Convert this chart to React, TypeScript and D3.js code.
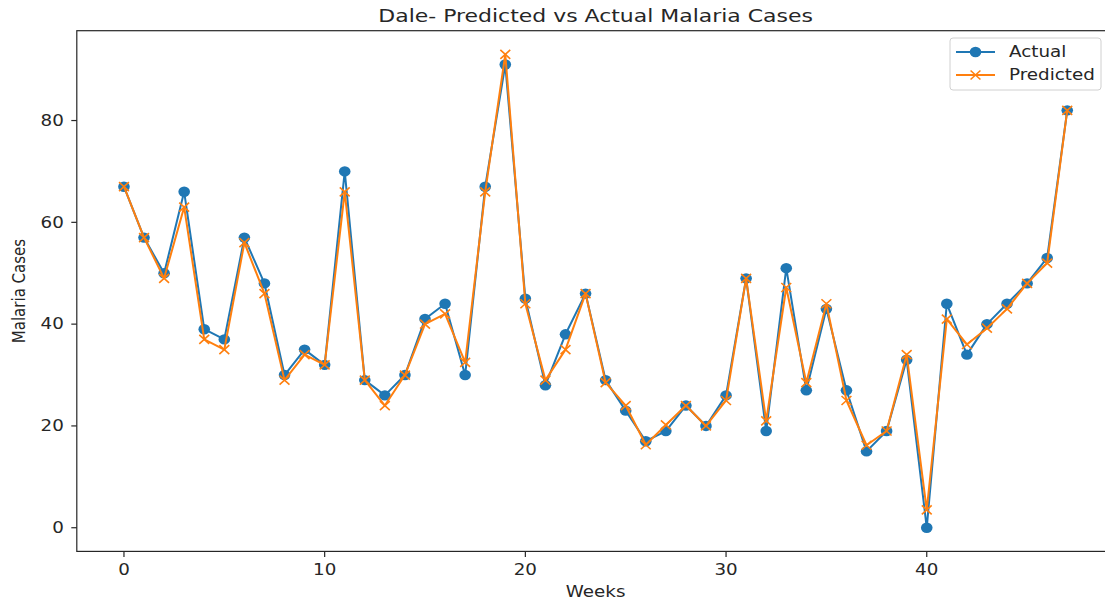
import React from "react";
import * as d3 from "d3";

// Weekly malaria cases, Dale district
const weeks: number[] = d3.range(0, 48);
const actual: number[] = [
  67, 57, 50, 66, 39, 37, 57, 48, 30, 35, 32, 70, 29, 26, 30, 41, 44, 30, 67, 91,
  45, 28, 38, 46, 29, 23, 17, 19, 24, 20, 26, 49, 19, 51, 27, 43, 27, 15, 19, 33,
  0, 44, 34, 40, 44, 48, 53, 82,
];
const predicted: number[] = [
  67, 57, 49, 63, 37, 35, 56, 46, 29, 34, 32, 66, 29, 24, 30, 40, 42, 32.5, 66, 93,
  44, 29, 35, 46, 28.5, 24, 16.3, 20.2, 24, 20, 25, 49, 21, 47.2, 28.5, 44, 25, 16.2, 19, 34,
  3.5, 41, 36, 39.2, 43, 48, 52, 82,
];
const xTicks: number[] = [0, 10, 20, 30, 40];
const yTicks: number[] = [0, 20, 40, 60, 80];

const title = "Dale- Predicted vs Actual Malaria Cases";
const xLabel = "Weeks";
const yLabel = "Malaria Cases";
const seriesNames = ["Actual", "Predicted"];

const BLUE = "#1f77b4";
const ORANGE = "#ff7f0e";
const TEXT = "#262626";
const FONT = "'DejaVu Sans', sans-serif";

const W = 1105;
const H = 605;
const plot = { left: 76.8, right: 1114.4, top: 30.7, bottom: 551.4 };
// the figure is wider than it is tall in its rendering, so glyphs are stretched horizontally
const SX = 1.22;

// matplotlib-style 5% data margins
function padded(lo: number, hi: number): [number, number] {
  const m = (hi - lo) * 0.05;
  return [lo - m, hi + m];
}

type LabelProps = {
  x: number;
  y: number;
  size: number;
  anchor?: "start" | "middle" | "end";
  rotate?: number;
  dy?: string;
  children: React.ReactNode;
};

function Label({ x, y, size, anchor = "start", rotate = 0, dy, children }: LabelProps) {
  const t = rotate
    ? `translate(${x},${y}) scale(${SX},1) rotate(${rotate})`
    : `translate(${x},${y}) scale(${SX},1)`;
  return (
    <g transform={t}>
      <text textAnchor={anchor} fontSize={size} dy={dy} fill={TEXT}>
        {children}
      </text>
    </g>
  );
}

export default function App() {
  const xExt = d3.extent(weeks) as [number, number];
  const allY = actual.concat(predicted);
  const yExt = [d3.min(allY) as number, d3.max(allY) as number] as [number, number];

  const x = d3.scaleLinear().domain(padded(xExt[0], xExt[1])).range([plot.left, plot.right]);
  const y = d3.scaleLinear().domain(padded(yExt[0], yExt[1])).range([plot.bottom, plot.top]);

  const line = d3
    .line<number>()
    .x((_, i) => x(weeks[i]))
    .y((d) => y(d));

  const cx = (plot.left + plot.right) / 2;
  const cy = (plot.top + plot.bottom) / 2;

  const crossSize = 4.5;
  const cross = (px: number, py: number, key: React.Key) => (
    <path
      key={key}
      d={`M${px - crossSize * 1.1},${py - crossSize}L${px + crossSize * 1.1},${py + crossSize}M${px - crossSize * 1.1},${py + crossSize}L${px + crossSize * 1.1},${py - crossSize}`}
      stroke={ORANGE}
      strokeWidth={1.6}
      fill="none"
    />
  );

  // legend geometry
  const lg = { x: 950, y: 38, w: 151, h: 52 };
  const rowY = [lg.y + 14, lg.y + 37];

  return (
    <div style={{ position: "fixed", left: 0, top: 0, width: W, height: H, background: "#fff" }}>
      <svg width={W} height={H} viewBox={`0 0 ${W} ${H}`} style={{ display: "block" }} fontFamily={FONT}>
        <rect x={0} y={0} width={W} height={H} fill="#fff" />

        {/* series */}
        <path d={line(actual) || ""} fill="none" stroke={BLUE} strokeWidth={2} strokeLinejoin="round" />
        {actual.map((v, i) => (
          <ellipse key={`a${i}`} cx={x(weeks[i])} cy={y(v)} rx={5.8} ry={5.2} fill={BLUE} />
        ))}
        <path d={line(predicted) || ""} fill="none" stroke={ORANGE} strokeWidth={2} strokeLinejoin="round" />
        {predicted.map((v, i) => cross(x(weeks[i]), y(v), `p${i}`))}

        {/* spines */}
        <rect
          x={plot.left}
          y={plot.top}
          width={plot.right - plot.left}
          height={plot.bottom - plot.top}
          fill="none"
          stroke={TEXT}
          strokeWidth={1.2}
        />

        {/* x axis */}
        {xTicks.map((t) => (
          <g key={`xt${t}`}>
            <line x1={x(t)} x2={x(t)} y1={plot.bottom} y2={plot.bottom + 5.5} stroke={TEXT} strokeWidth={1.2} />
            <Label x={x(t)} y={plot.bottom + 24} size={15} anchor="middle">
              {t}
            </Label>
          </g>
        ))}
        {/* y axis */}
        {yTicks.map((t) => (
          <g key={`yt${t}`}>
            <line x1={plot.left} x2={plot.left - 5.5} y1={y(t)} y2={y(t)} stroke={TEXT} strokeWidth={1.2} />
            <Label x={plot.left - 13} y={y(t)} size={15} anchor="end" dy="0.35em">
              {t}
            </Label>
          </g>
        ))}

        {/* labels */}
        <Label x={cx} y={597} size={15} anchor="middle">
          {xLabel}
        </Label>
        <Label x={25} y={cy} size={15} anchor="middle" rotate={-90}>
          {yLabel}
        </Label>
        <Label x={cx} y={21.5} size={18} anchor="middle">
          {title}
        </Label>

        {/* legend */}
        <rect x={lg.x} y={lg.y} width={lg.w} height={lg.h} rx={3} fill="#fff" fillOpacity={0.8} stroke="#d0d0d0" />
        <line x1={lg.x + 6} x2={lg.x + 45} y1={rowY[0]} y2={rowY[0]} stroke={BLUE} strokeWidth={2} />
        <ellipse cx={lg.x + 25.5} cy={rowY[0]} rx={5.8} ry={5.2} fill={BLUE} />
        <line x1={lg.x + 6} x2={lg.x + 45} y1={rowY[1]} y2={rowY[1]} stroke={ORANGE} strokeWidth={2} />
        {cross(lg.x + 25.5, rowY[1], "legx")}
        {seriesNames.map((s, i) => (
          <Label key={s} x={lg.x + 59} y={rowY[i]} size={15} dy="0.35em">
            {s}
          </Label>
        ))}
      </svg>
    </div>
  );
}
